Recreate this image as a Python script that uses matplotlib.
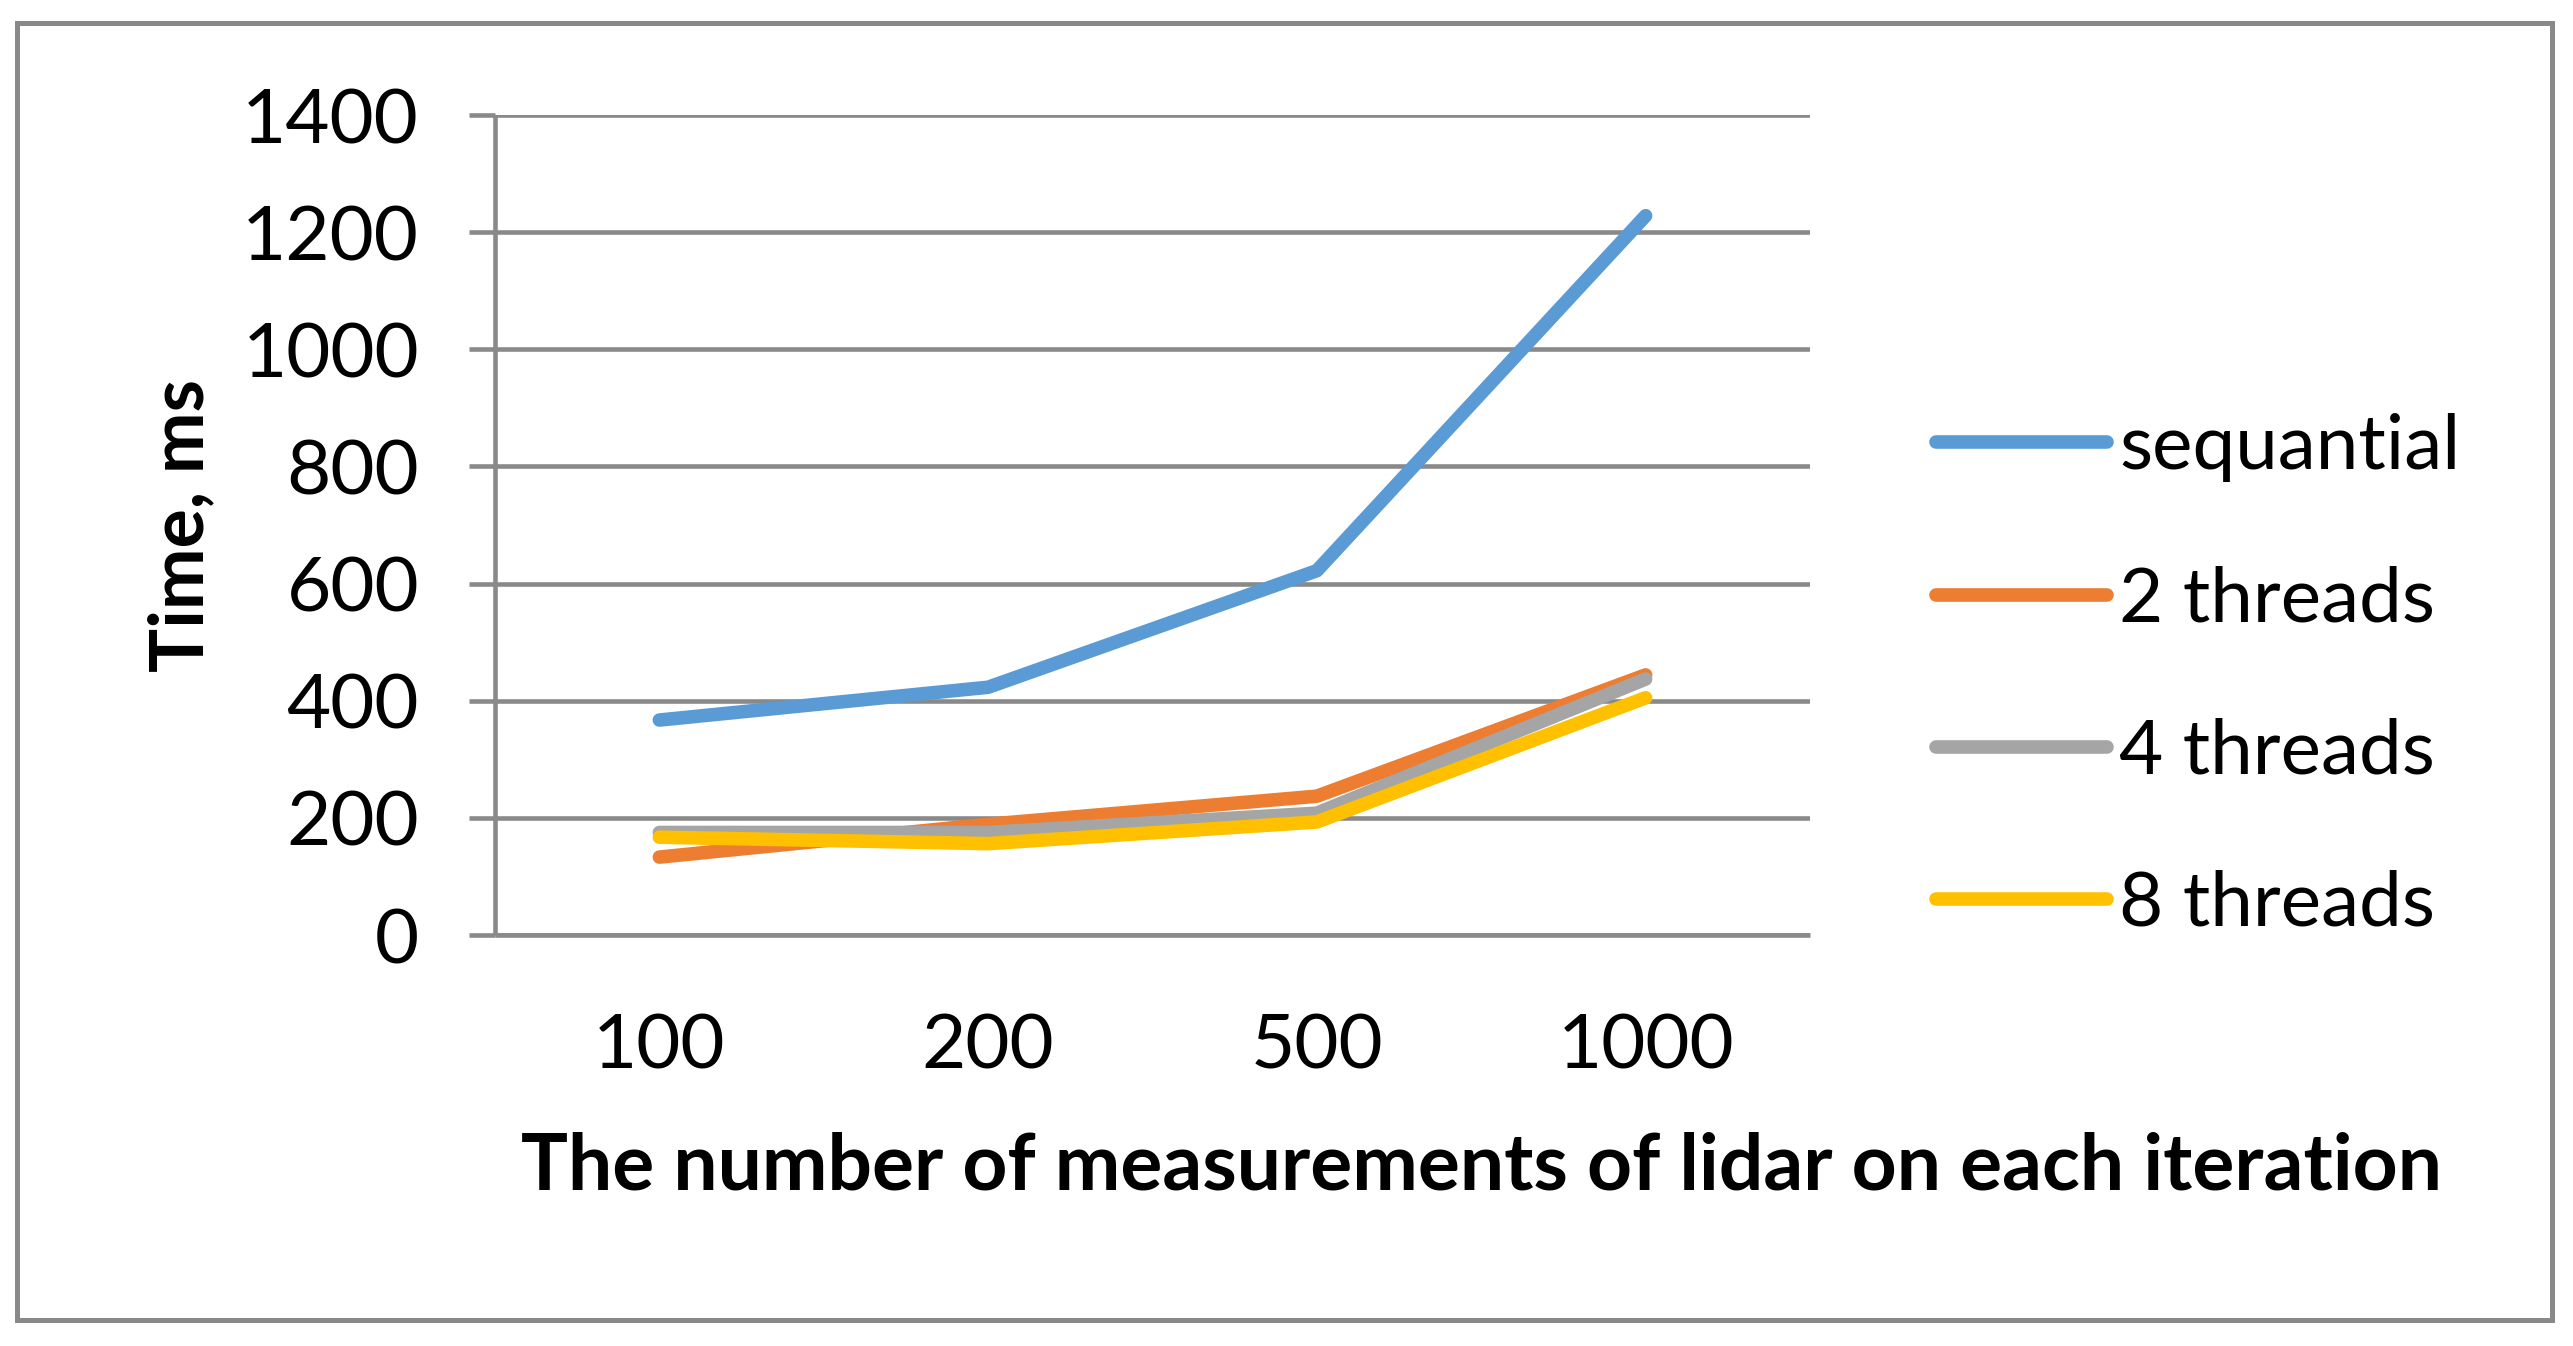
import matplotlib
matplotlib.use("Agg")
import matplotlib.pyplot as plt
from matplotlib.patches import Rectangle

# ---- data ----
categories = ["100", "200", "500", "1000"]
sequential = [367, 423, 622, 1228]
threads_2 = [133, 189, 237, 444]
threads_4 = [175, 175, 208, 437]
threads_8 = [167, 156, 193, 405]
series_names = ["sequantial", "2 threads", "4 threads", "8 threads"]
y_ticks = [0, 200, 400, 600, 800, 1000, 1200, 1400]
x_title = "The number of measurements of lidar on each iteration"
y_title = "Time, ms"

colors = ["#5B9BD5", "#ED7D31", "#A5A5A5", "#FFC000"]
grid_c = "#898989"

plt.rcParams['font.family'] = ['Lato', 'DejaVu Sans']

W, H = 2573, 1346
fig = plt.figure(figsize=(W / 100, H / 100), dpi=100)
fig.patch.set_facecolor("white")

# plot area in pixels
px_l, px_r, px_t, px_b = 495, 1810, 115, 935
ax = fig.add_axes([px_l / W, 1 - px_b / H, (px_r - px_l) / W, (px_b - px_t) / H])

xs = list(range(len(categories)))
lw = 9.8
for vals, name, c in zip([sequential, threads_2, threads_4, threads_8], series_names, colors):
    ax.plot(xs, vals, color=c, lw=lw, solid_capstyle="round", solid_joinstyle="round",
            label=name, zorder=3)

ax.set_xlim(-0.5, len(categories) - 0.5)
ax.set_ylim(0, 1400)
ax.set_yticks(y_ticks)
ax.set_yticklabels([str(v) for v in y_ticks])
ax.set_xticks(xs)
ax.set_xticklabels(categories)

for s in ["top", "right"]:
    ax.spines[s].set_visible(False)
for s in ["left", "bottom"]:
    ax.spines[s].set_color(grid_c)
    ax.spines[s].set_linewidth(3.3)
    ax.spines[s].set_capstyle("butt")

ax.yaxis.grid(True, color=grid_c, lw=3.3, zorder=1)
ax.set_axisbelow(True)
ax.tick_params(axis="y", length=18.7, width=3.3, color=grid_c, pad=36, labelsize=55,
               direction="out")
ax.tick_params(axis="x", length=0, pad=56, labelsize=55)

ax.set_xlabel(x_title, fontsize=56.5, fontweight="bold", va="center")
ax.xaxis.set_label_coords((1481 - px_l) / (px_r - px_l), -(1168 - px_b) / (px_b - px_t))
ax.set_ylabel(y_title, fontsize=53, fontweight="bold", va="center")
ax.yaxis.set_label_coords(-(px_l - 182) / (px_r - px_l), 0.5)

leg = ax.legend(loc="center left", bbox_to_anchor=(1936 / W, 1 - 676 / H),
                bbox_transform=fig.transFigure, frameon=False, fontsize=55,
                handlelength=2.24, handletextpad=0.16, labelspacing=1.09,
                borderpad=0, borderaxespad=0)
for h in leg.get_lines():
    h.set_linewidth(lw)
    h.set_solid_capstyle("round")

# outer chart border
fig.patches.append(Rectangle((17 / W, 1 - 1320 / H), (2552 - 17) / W, (1320 - 23) / H,
                             transform=fig.transFigure, fill=False,
                             edgecolor=grid_c, lw=3.6, zorder=0))

fig.savefig("out.png", dpi=100, facecolor="white")
